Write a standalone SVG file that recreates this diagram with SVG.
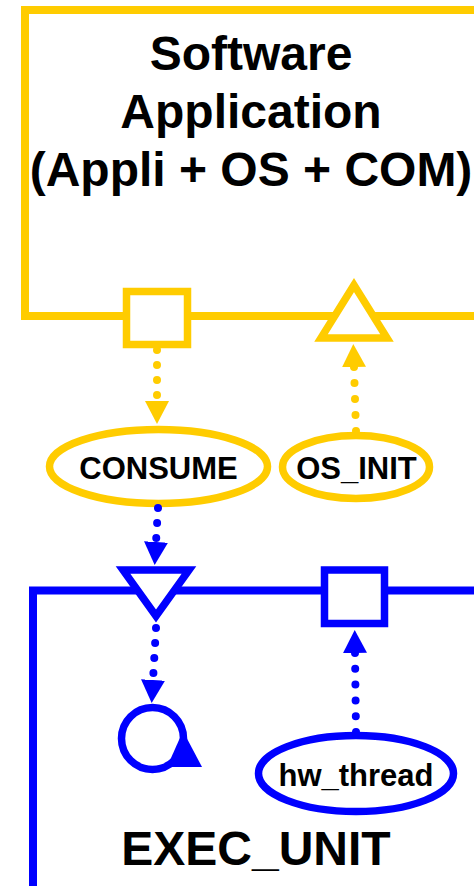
<svg xmlns="http://www.w3.org/2000/svg" width="474" height="886" viewBox="0 0 474 886">
<style>
.y{fill:none;stroke:#FFCC00;stroke-width:8;stroke-linejoin:miter}
.b{fill:none;stroke:#0000FF;stroke-width:8;stroke-linejoin:miter}
.yp{fill:#FFFFFF;stroke:#FFCC00;stroke-width:7.5;stroke-linejoin:miter}
.bp{fill:#FFFFFF;stroke:#0000FF;stroke-width:7.5;stroke-linejoin:miter}
.yd{fill:none;stroke:#FFCC00;stroke-width:8;stroke-linecap:round}
.bd{fill:none;stroke:#0000FF;stroke-width:8;stroke-linecap:round}
text{font-family:"Liberation Sans",Arial,sans-serif;font-weight:bold;fill:#000000;text-anchor:middle}
.big{font-size:48px}
.lbl{font-size:31px}
</style>
<defs>
<marker id="ay" markerUnits="userSpaceOnUse" markerWidth="24" markerHeight="24" viewBox="0 0 24 24" refX="0" refY="12" orient="auto"><path d="M0,0 L23,12 L0,24 z" fill="#FFCC00"/></marker>
<marker id="ab" markerUnits="userSpaceOnUse" markerWidth="24" markerHeight="24" viewBox="0 0 24 24" refX="0" refY="12" orient="auto"><path d="M0,0 L23,12 L0,24 z" fill="#0000FF"/></marker>
</defs>
<g id="software_application">
<rect class="y" x="25" y="10" width="470" height="306"/>
<text class="big" x="251" y="70">Software</text>
<text class="big" x="251" y="128">Application</text>
<text class="big" x="251" y="186">(Appli + OS + COM)</text>
</g>
<g id="exec_unit">
<rect class="b" x="33" y="590.5" width="470" height="330"/>
<text class="big" x="256" y="865">EXEC_UNIT</text>
</g>
<g id="port_consume_sw"><rect class="yp" x="126.5" y="291.5" width="61" height="53"/></g>
<g id="port_osinit_sw"><polygon class="yp" points="354,285 321,338 387,338"/></g>
<g id="port_consume_hw"><polygon class="bp" points="123,570 189,570 156,616"/></g>
<g id="port_osinit_hw"><rect class="bp" x="324.5" y="570" width="60" height="53.5"/></g>
<g id="consume"><ellipse class="yp" cx="158.5" cy="466.5" rx="109" ry="37"/><text class="lbl" x="158.5" y="479">CONSUME</text></g>
<g id="os_init"><ellipse class="yp" cx="356" cy="467" rx="73.5" ry="31.5"/><text class="lbl" x="356.5" y="479">OS_INIT</text></g>
<g id="hw_thread"><ellipse class="bp" cx="356" cy="773.5" rx="97.5" ry="38"/><text class="lbl" x="356" y="786">hw_thread</text></g>
<g id="loop">
<circle class="bp" cx="152.5" cy="738.5" r="31"/>
<polygon points="183,731 167,767 202,767" fill="#0000FF"/>
</g>
<g id="connectors">
<path class="yd" d="M157,350 L157,401" stroke-dasharray="0 15" marker-end="url(#ay)"/>
<path class="yd" d="M356,431 L354,367" stroke-dasharray="0 16" marker-end="url(#ay)"/>
<path class="bd" d="M158,508 L156,542" stroke-dasharray="0 15" marker-end="url(#ab)"/>
<path class="bd" d="M156,628 L153,680" stroke-dasharray="0 15" marker-end="url(#ab)"/>
<path class="bd" d="M356,732 L355,653" stroke-dasharray="0 15.8" marker-end="url(#ab)"/>
</g>
</svg>
